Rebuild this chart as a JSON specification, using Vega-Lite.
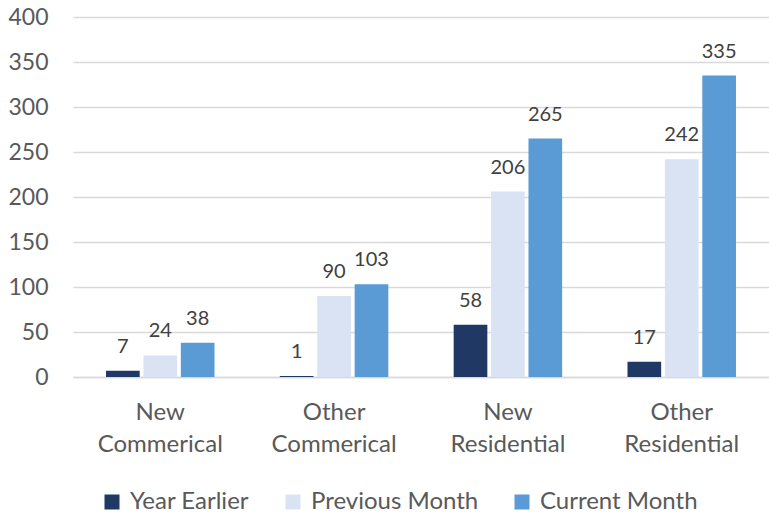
{
  "$schema": "https://vega.github.io/schema/vega-lite/v6.json",
  "width": 696,
  "height": 360,
  "autosize": {"type": "none"},
  "padding": {"left": 73, "top": 17, "right": 0, "bottom": 140},
  "background": "white",
  "config": {"view": {"stroke": null}, "font": "Lato"},
  "data": {
    "values": [
      {"category": "New Commerical", "series": "Year Earlier", "value": 7},
      {"category": "New Commerical", "series": "Previous Month", "value": 24},
      {"category": "New Commerical", "series": "Current Month", "value": 38},
      {"category": "Other Commerical", "series": "Year Earlier", "value": 1},
      {"category": "Other Commerical", "series": "Previous Month", "value": 90},
      {"category": "Other Commerical", "series": "Current Month", "value": 103},
      {"category": "New Residential", "series": "Year Earlier", "value": 58},
      {"category": "New Residential", "series": "Previous Month", "value": 206},
      {"category": "New Residential", "series": "Current Month", "value": 265},
      {"category": "Other Residential", "series": "Year Earlier", "value": 17},
      {"category": "Other Residential", "series": "Previous Month", "value": 242},
      {"category": "Other Residential", "series": "Current Month", "value": 335}
    ]
  },
  "encoding": {
    "x": {
      "field": "category",
      "type": "nominal",
      "sort": ["New Commerical", "Other Commerical", "New Residential", "Other Residential"],
      "scale": {"paddingInner": 0.376, "paddingOuter": 0.19},
      "axis": {
        "title": null,
        "labelAngle": 0,
        "labelFontSize": 24,
        "labelColor": "#595959",
        "labelPadding": 23,
        "labelLineHeight": 32,
        "labelExpr": "split(datum.label, ' ')",
        "ticks": false,
        "domain": true,
        "domainColor": "#D9D9D9",
        "domainWidth": 1.3
      }
    },
    "xOffset": {
      "field": "series",
      "type": "nominal",
      "sort": ["Year Earlier", "Previous Month", "Current Month"],
      "scale": {"paddingInner": 0.1, "paddingOuter": 0}
    },
    "y": {
      "field": "value",
      "type": "quantitative",
      "scale": {"domain": [0, 400], "nice": false},
      "axis": {
        "title": null,
        "values": [0, 50, 100, 150, 200, 250, 300, 350, 400],
        "grid": true,
        "gridColor": "#D9D9D9",
        "gridWidth": 1.3,
        "domain": false,
        "ticks": false,
        "labelFontSize": 23,
        "labelColor": "#595959",
        "labelPadding": 25
      }
    }
  },
  "layer": [
    {
      "mark": {"type": "bar"},
      "encoding": {
        "color": {
          "field": "series",
          "type": "nominal",
          "sort": ["Year Earlier", "Previous Month", "Current Month"],
          "scale": {
            "domain": ["Year Earlier", "Previous Month", "Current Month"],
            "range": ["#203864", "#DAE3F3", "#5B9BD5"]
          },
          "legend": {
            "title": null,
            "orient": "none",
            "legendX": 27,
            "legendY": 473,
            "direction": "horizontal",
            "symbolType": "square",
            "symbolSize": 225,
            "symbolStrokeWidth": 0,
            "labelFontSize": 24,
            "labelColor": "#595959",
            "labelOffset": 6,
            "labelLimit": 400,
            "columnPadding": 31,
            "padding": 0
          }
        }
      }
    },
    {
      "mark": {"type": "text", "dy": -18, "baseline": "alphabetic", "fontSize": 20, "color": "#404040"},
      "encoding": {"text": {"field": "value", "type": "quantitative"}}
    }
  ]
}
